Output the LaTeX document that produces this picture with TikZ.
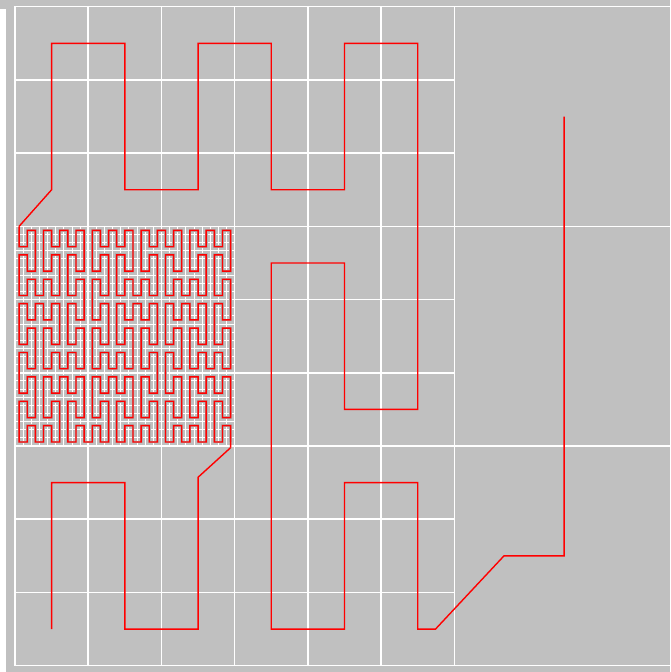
\documentclass[tikz,border=0pt]{standalone}
\definecolor{silver}{RGB}{192,192,192}
\definecolor{halo}{RGB}{176,176,176}
\begin{document}
\begin{tikzpicture}[x=73.22pt,y=-73.22pt,
    declare function={
        dg(\q,\p)=mod(floor((\q+0.5)/\p),3);
        kk(\m,\t)=\t+mod(\m,2)*(2-2*\t);
        pnx(\q)=9*dg(\q,243)+3*kk(dg(\q,81),dg(\q,27))+kk(dg(\q,81)+dg(\q,9),dg(\q,3));
        pny(\q)=9*kk(dg(\q,243),dg(\q,81))+3*kk(dg(\q,243)+dg(\q,27),dg(\q,9))+kk(dg(\q,243)+dg(\q,27)+dg(\q,3),dg(\q,1));
    },
    gridline/.style={white,line width=1.6pt},
    fineline/.style={white,line width=0.9pt},
    curve/.style={red,line width=1.4pt,line join=miter},
    curvehalo/.style={halo,line width=2.8pt}]
        % background
        \useasboundingbox (-0.2049,-0.0915) rectangle (8.9456,9.0862);
        \fill[silver] (-0.2049,-0.0915) rectangle (8.9456,9.0862);
        \fill[white] (-0.2049,0.03) rectangle (-0.125,9.0862);
        % fine grid
        \foreach \k in {1,...,26} {\draw[fineline] (\k/9,3) -- (\k/9,6);\draw[fineline] (0,3+\k/9) -- (3,3+\k/9);}
        % grid
        \foreach \k in {1,...,6} \draw[gridline] (\k,0) -- (\k,9);
        \foreach \k in {1,...,8} \draw[gridline] (0,\k) -- (6,\k);
        \draw[gridline] (6,3) -- (9,3);\draw[gridline] (6,6) -- (9,6);
        \draw[gridline] (0,0) rectangle (9,9);
        % fine curve
        \draw[curvehalo] \foreach \i in {0,...,728}{ \ifnum\i=0 \else -- \fi ({(26.5-pnx(\i))/9},{6-(pny(\i)+0.5)/9}) };
        \draw[curve] (2.944,6.023) \foreach \i in {0,...,728}{ -- ({(26.5-pnx(\i))/9},{6-(pny(\i)+0.5)/9}) } -- (0.0556,3);
        % curve
        \draw[curve] (0.5,8.5) -- (0.5,6.5) -- (1.5,6.5) -- (1.5,8.5) -- (2.5,8.5) -- (2.5,6.427) -- (2.944,6.023);
        \draw[curve] (0.0556,3) -- (0.5,2.5) -- (0.5,0.5) -- (1.5,0.5) -- (1.5,2.5) -- (2.5,2.5) -- (2.5,0.5) -- (3.5,0.5) -- (3.5,2.5) -- (4.5,2.5) -- (4.5,0.5) -- (5.5,0.5) -- (5.5,5.5) -- (4.5,5.5) -- (4.5,3.5) -- (3.5,3.5) -- (3.5,8.5) -- (4.5,8.5) -- (4.5,6.5) -- (5.5,6.5) -- (5.5,8.5) -- (5.743,8.5) -- (6.678,7.5) -- (7.5,7.5) -- (7.5,1.5);
    \end{tikzpicture}
\end{document}
